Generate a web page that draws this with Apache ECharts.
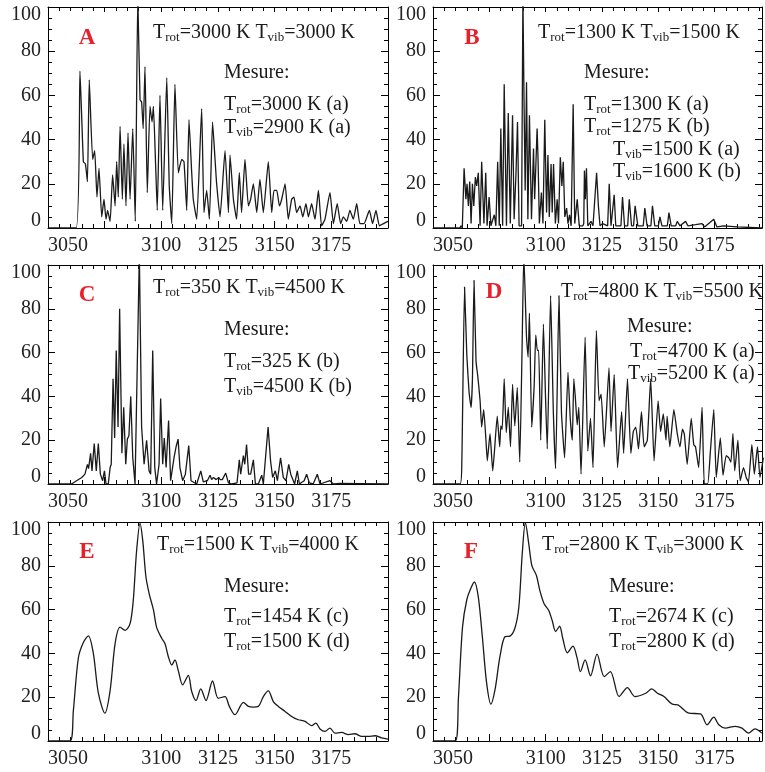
<!DOCTYPE html>
<html>
<head>
<meta charset="utf-8">
<script src="https://cdn.jsdelivr.net/npm/echarts@6/dist/echarts.min.js"></script>
<style>
html,body{margin:0;padding:0;background:#fff}
#main{width:765px;height:772px}
</style>
</head>
<body>
<div id="main"></div>
<script>
// spectres : [nombre d'onde, intensite]
var specA = [[3050,0],[3062.4,0],[3064.1,71],[3065.6,30],[3066.5,29],[3067.4,21],[3068.2,67],[3069.7,31],[3070.6,35],[3071.6,14],[3072.5,27],[3073.7,5],[3074.7,13],[3075.6,4],[3076.3,8],[3077.4,3],[3078.5,24],[3079.6,10],[3080.3,30],[3081,14],[3081.8,46],[3082.8,13],[3083.5,38],[3084.4,10],[3085.3,43],[3086.2,13],[3087.4,45],[3088.5,3],[3089.6,105],[3090.6,58],[3091.3,57],[3092,45],[3092.8,73],[3093.8,16],[3095,55],[3095.9,48],[3096.5,55],[3097.4,31],[3098.2,8],[3099.4,60],[3100.6,8],[3102.4,68],[3103.5,19],[3104.6,2],[3106,65],[3107.5,25],[3109,31],[3110,30],[3111.2,8],[3112.2,49],[3113.4,25],[3114.1,13],[3115.6,4],[3117.8,54],[3118.8,7],[3120,17],[3121.2,4],[3122.6,48],[3123.7,31],[3124.4,20],[3125.9,5],[3128.1,35],[3129.6,7],[3130.3,33],[3131.8,13],[3133.2,4],[3134.4,25],[3135.4,7],[3136.9,31],[3138.4,10],[3139.4,13],[3140.6,20],[3142.1,7],[3143.5,22],[3145,7],[3147.2,30],[3148.7,7],[3149.7,17],[3150.9,17],[3152.1,10],[3153.1,13],[3154.6,20],[3156,4],[3157.5,13],[3158.5,14],[3159.7,7],[3161.2,10],[3162.4,5],[3163.8,11],[3164.9,5],[3166.3,11],[3167.8,4],[3169.3,17],[3170.7,1],[3172.2,4],[3174.4,16],[3175.9,2],[3177.6,11],[3179.1,2],[3180.3,5],[3181.8,3],[3183.2,8],[3184.7,4],[3186.2,11],[3187.6,2],[3189.4,2],[3191.8,8],[3193.2,2],[3194.7,8],[3196.2,1],[3198,2],[3200,3]];

var specB = [[3050,0],[3062,0],[3062.4,1],[3063,0],[3063.8,27],[3064.6,13],[3065.1,20],[3065.7,10],[3066.3,21],[3066.9,2],[3067.5,20],[3068.1,10],[3068.8,23],[3069.4,19],[3070.1,25],[3070.9,1],[3071.6,30],[3072.6,2],[3073.4,25],[3074,1],[3074.9,14],[3075.7,1],[3077.2,6],[3077.9,1],[3078.7,30],[3079.4,1],[3080.1,45],[3080.9,1],[3081.6,65],[3082.6,1],[3083.4,52],[3084.3,2],[3085.3,51],[3086,4],[3086.8,24],[3087.5,48],[3088.2,1],[3089.3,1],[3089.9,105],[3090.4,57],[3090.9,17],[3091.5,66],[3092.1,4],[3092.8,51],[3093.7,4],[3094.6,36],[3095.1,13],[3095.6,27],[3096.2,45],[3096.6,32],[3097.2,2],[3098.1,16],[3098.8,2],[3099.6,49],[3100.4,7],[3101,33],[3101.6,5],[3102.4,29],[3102.9,7],[3103.5,29],[3104.3,2],[3105.1,13],[3105.7,2],[3106.5,32],[3107.2,19],[3107.8,30],[3108.5,5],[3109.3,9],[3109.9,2],[3110.6,6],[3111.3,1],[3112.2,56],[3112.9,2],[3114,13],[3114.9,1],[3116.5,1],[3116.9,2],[3117.2,26],[3117.6,13],[3118.1,27],[3118.7,1],[3120.1,3],[3121,1],[3122.6,25],[3123.4,10],[3124.1,1],[3125.3,2],[3127.5,1],[3128.2,20],[3129,1],[3130.4,15],[3131.1,1],[3133.4,1],[3134.1,14],[3135,1],[3136.4,1],[3137.1,13],[3138.1,1],[3139,1],[3139.7,10],[3140.9,1],[3143.3,1],[3144,9],[3145,1],[3146.7,1],[3147.4,10],[3148.4,1],[3150,1],[3150.7,5],[3151.6,1],[3154,1],[3154.7,7],[3155.7,1],[3157.7,1],[3158.4,3],[3159.6,1],[3162.1,3],[3163.1,1],[3166.5,1.5],[3169.4,2],[3170.5,0.5],[3174.6,4],[3176,0.5],[3179,1],[3185,0.5],[3196,0]];

var specC = [[3050,0],[3060.4,0],[3062.6,1.5],[3064.9,3],[3066.3,4.5],[3067.4,9],[3067.9,7],[3068.8,14],[3069.4,6],[3070.4,18.5],[3071.3,6],[3072.2,18.5],[3073.1,4.5],[3074.1,1.5],[3074.9,6],[3075.6,0],[3076.6,0],[3077.4,7.5],[3077.9,9],[3078.7,48],[3079.4,21],[3080.1,61],[3080.9,26],[3081.6,80],[3082.6,14],[3083.4,35],[3084.3,9],[3085,20.5],[3085.7,22],[3086.5,40],[3087.4,12],[3088.4,0],[3090.3,105],[3091.3,26],[3092.4,9],[3093.5,20],[3094.6,6],[3095.3,4.5],[3096.2,61],[3097.1,7.5],[3097.9,0],[3099,9],[3099.7,39],[3100.6,9],[3101.3,21],[3102.1,7.5],[3103.2,29],[3104.1,1.5],[3105.6,12],[3106.5,17],[3107.4,20.5],[3108.2,7.5],[3109.4,1.5],[3110.6,4.5],[3112.1,17.5],[3113.1,1.5],[3115.6,0],[3117.4,6],[3118.5,1],[3120.3,1.5],[3121.5,4],[3122.2,2],[3123,3],[3124.2,2],[3125.3,3],[3126,2],[3126.9,2],[3128.4,5],[3129.6,0.5],[3131,0],[3133.4,0.5],[3134.4,11],[3135,4.5],[3136.2,13],[3136.8,9],[3137.6,18],[3138.5,4.5],[3139.4,4.5],[3140.6,11],[3141.5,0],[3142.8,0],[3144.3,4],[3145,0],[3147.1,26],[3148.2,10.5],[3149.1,3],[3150.3,6],[3151.2,1.5],[3152.6,12],[3153.8,3],[3155,1.5],[3156.2,9],[3157.1,4.5],[3157.8,5],[3158.8,0],[3160,6],[3160.9,0],[3163,1.5],[3164.1,4.5],[3165.3,0.5],[3167,0],[3168.8,4.5],[3170,0],[3174.4,1.5],[3175.9,0],[3178.8,0.3],[3200,0]];

var specD = [[3050,0],[3062,0],[3062.8,10.6],[3064,90],[3065,59],[3066,42],[3066.9,35],[3067.5,48],[3068.2,93],[3069.1,56],[3069.9,49],[3070.9,38],[3071.6,26],[3072.5,34],[3073.5,20],[3074.1,10.6],[3075.3,23],[3076.5,6],[3077.2,14],[3078.5,31],[3079.6,17],[3080.1,26.5],[3080.7,25],[3081.6,48],[3082.5,23.5],[3083.4,35],[3084.4,17],[3085.3,45.5],[3086.3,26.5],[3087.4,44],[3088.5,10],[3089.5,60],[3090.3,105],[3091.5,67],[3092.2,58],[3092.8,78],[3093.8,26],[3094.9,45],[3095.6,68],[3096.3,61],[3096.9,61],[3097.8,20],[3099,73],[3099.9,41],[3100.7,16],[3102.2,86],[3103.4,33],[3104.4,7],[3105.9,86],[3107,33],[3108.4,12],[3109.9,51],[3110.9,30],[3111.8,20],[3112.5,48],[3113.2,39],[3114,27],[3114.7,35],[3115.7,4.5],[3117.5,67],[3118.7,15],[3119.9,30],[3121,7.5],[3122.5,70],[3123.7,38],[3124.6,41],[3126,17],[3128.1,53],[3129,24],[3130.4,50],[3131.9,7.5],[3133.7,33],[3134.6,14],[3136.3,48],[3137.8,14],[3138.9,24],[3140,26],[3141.2,16],[3142.5,33],[3143.7,17],[3145.1,20],[3146.6,48],[3148.1,10.6],[3149.9,38],[3151,24],[3152.2,32],[3153.4,20],[3153.9,31],[3155.1,17],[3156.9,34],[3158.4,23],[3159.6,17],[3160.7,25],[3161.5,23],[3162.8,9],[3164.6,30],[3165.7,18],[3166.5,17],[3167.9,7.5],[3169.4,35],[3170.4,0],[3171.9,0],[3173.1,15],[3174.6,34],[3175.7,3],[3177.5,21],[3178.7,4],[3180.1,13],[3181.2,12],[3182.2,10],[3183.1,23],[3183.9,6],[3185.3,20],[3186.3,1.5],[3187.8,7.5],[3189,3],[3190,1],[3191.5,18],[3192.6,4.5],[3194,17],[3195.1,3],[3196.6,12]];

var specE = [[3050,0],[3059.7,0],[3061.2,14],[3063.4,38],[3065.6,45],[3067.8,48],[3070,40],[3072.2,22],[3075.1,12.7],[3077.4,23],[3079.6,44.5],[3081.8,52],[3084,50.5],[3086.2,53.6],[3087.6,64],[3089.1,87],[3090.6,99.4],[3091.8,91.5],[3093.2,75],[3094.7,67],[3096.5,60],[3097.9,52],[3100.1,47],[3101.6,44.5],[3103.1,38.5],[3104.6,34.7],[3106,37],[3107.5,32],[3109.4,25.6],[3111.9,30],[3113.4,22.6],[3115.3,18.5],[3117.4,23.8],[3119.7,18.5],[3122.6,27.4],[3125.1,19.5],[3128.1,20.3],[3130,15.8],[3132.5,12],[3136.2,17.6],[3138.4,15.8],[3140.6,15.5],[3142.8,15.8],[3145,20.3],[3147.2,22.9],[3149.4,18],[3151.6,15.8],[3154.6,13.5],[3157.5,11.2],[3160.4,9.7],[3163.4,9],[3166.3,7],[3168.2,8.2],[3170,5.5],[3172.2,4.4],[3174.4,5.9],[3176.6,3.6],[3179.6,3.9],[3182.5,2.9],[3185.4,3.3],[3188.4,2.1],[3191.3,2.1],[3194.3,2.4],[3197.2,1.4],[3200,0.9]];

var specF = [[3050,0],[3059.9,0],[3061.3,20],[3063.1,52],[3065,64.5],[3066.9,70],[3068.4,72.6],[3070.1,65.8],[3071.9,47.6],[3073.8,26.4],[3075.7,16.8],[3077.5,23.3],[3079.7,38.5],[3081.9,47.6],[3084.1,47.9],[3086.3,51.4],[3088.1,61.2],[3089.6,85.5],[3091,99.8],[3092.5,90],[3093.9,80],[3095.9,75.6],[3097.4,68.8],[3099.3,62.7],[3101.3,59.7],[3102.9,55],[3104.4,50],[3106.2,52.4],[3107.6,46.8],[3109.6,40.3],[3112.1,43.3],[3114,37.7],[3115.4,31.7],[3117.5,37],[3119.9,29.8],[3122.8,39.7],[3126,29.4],[3128.7,31.7],[3132.6,20.3],[3136.3,24.4],[3139.6,20.3],[3144.4,21.8],[3147.1,23.8],[3149.6,21.8],[3152.5,20.3],[3156.2,16.8],[3158.7,16.5],[3163.5,12.7],[3168.7,12.4],[3171.6,7.4],[3174.6,10.9],[3176.8,7.4],[3179.7,5.9],[3184.1,6.7],[3187.1,5.9],[3190,3.6],[3192.9,5.5],[3195.9,3.6]];

var spectres = [specA, specB, specC, specD, specE, specF];
var lissage = [0.15, 0, 0, 0.15, 0.3, 0.3];
var xLabels = [3050, 3100, 3125, 3150, 3175];
var lettres = ['A','B','C','D','E','F'];
var titres = [['3000 K','3000 K'],['1300 K','1500 K'],['350 K','4500 K'],['4800 K','5500 K'],['1500 K','4000 K'],['2800 K','3000 K']];
var mesures = [
	[['rot','3000 K (a)'],['vib','2900 K (a)']],
	[['rot','1300 K (a)'],['rot','1275 K (b)'],['vib','1500 K (a)'],['vib','1600 K (b)']],
	[['rot','325 K (b)'],['vib','4500 K (b)']],
	[['rot','4700 K (a)'],['vib','5200 K (a)']],
	[['rot','1454 K (c)'],['rot','1500 K (d)']],
	[['rot','2674 K (c)'],['rot','2800 K (d)']]
];

// cadres des 6 graphes
var cadres = [
	{left:48, top:7, width:340, height:221, xmax:3200},
	{left:433, top:7, width:331, height:221, xmax:3196},
	{left:48, top:265, width:340, height:219, xmax:3200},
	{left:433, top:265, width:331, height:219, xmax:3196},
	{left:48, top:522, width:340, height:219, xmax:3200},
	{left:433, top:522, width:331, height:219, xmax:3196}
];
// positions des textes (relatives au cadre) : lettre, titre, Mesure:, lignes
var posTextes = [
	{l:[39,31], t:[105,26], m:[176,66], lignes:[[176,98],[176,121]]},
	{l:[39,31], t:[105,26], m:[151,66], lignes:[[151,98],[151,120],[180,143],[180,165]]},
	{l:[39,30], t:[105,23], m:[176,65], lignes:[[176,97],[176,122]]},
	{l:[61,27], t:[128,27], m:[194,62], lignes:[[197,87],[195,109]]},
	{l:[39,30], t:[109,23], m:[176,65], lignes:[[176,95],[176,120]]},
	{l:[38,30], t:[109,23], m:[176,65], lignes:[[176,95],[176,120]]}
];

var police = '"Liberation Serif", "DejaVu Serif", serif';
var noir = '#1a1a1a';
var richT = {
	n: {fontSize: 20, fontFamily: police, color: noir},
	s: {fontSize: 13, fontFamily: police, color: noir, padding: [9, 0, 0, 0]}
};

var grids = [], xAxes = [], yAxes = [], series = [], graphics = [];
for (var i = 0; i < 6; i++) {
	var c = cadres[i];
	grids.push({left:c.left, top:c.top, width:c.width, height:c.height, show:false});
	var tick = {inside:true, length:7, lineStyle:{color:'#000', width:1}};
	var ligne = {show:true, onZero:false, lineStyle:{color:'#000', width:1}};
	xAxes.push({
		gridIndex:i, type:'value', min:3050, max:c.xmax, interval:25, position:'bottom',
		axisLine:ligne, axisTick:tick,
		minorTick:{show:true, splitNumber:5, length:4, lineStyle:{color:'#000'}},
		splitLine:{show:false},
		axisLabel:{margin:8, fontSize:20, fontFamily:police, color:'#222', alignMinLabel:'left',
			formatter:function(v){ return xLabels.indexOf(v) >= 0 ? String(v) : ''; }}
	});
	yAxes.push({
		gridIndex:i, type:'value', min:0, max:100, interval:20, position:'left',
		axisLine:ligne, axisTick:tick,
		minorTick:{show:true, splitNumber:4, length:4, lineStyle:{color:'#000'}},
		splitLine:{show:false},
		axisLabel:{margin:7, fontSize:20, fontFamily:police, color:'#222',
			formatter:function(v){ return v === 0 ? '{z|0}' : (v === 100 ? '{h|100}' : String(v)); },
			rich:{
				z:{fontSize:20, fontFamily:police, color:'#222', padding:[0,0,14,0]},
				h:{fontSize:20, fontFamily:police, color:'#222', padding:[15,0,0,0]}
			}}
	});
	series.push({
		type:'line', xAxisIndex:i, yAxisIndex:i, data:spectres[i],
		showSymbol:false, smooth:lissage[i], clip:true,
		lineStyle:{color:noir, width:1.3}
	});
}
// axes miroirs (haut et droite)
for (var j = 0; j < 6; j++) {
	xAxes.push({
		gridIndex:j, type:'value', min:3050, max:cadres[j].xmax, interval:25, position:'top',
		axisLine:{show:true, onZero:false, lineStyle:{color:'#000', width:1}},
		axisTick:{inside:true, length:5, lineStyle:{color:'#000'}},
		minorTick:{show:true, splitNumber:5, length:4, lineStyle:{color:'#000'}},
		splitLine:{show:false}, axisLabel:{show:false}
	});
	yAxes.push({
		gridIndex:j, type:'value', min:0, max:100, interval:20, position:'right',
		axisLine:{show:true, onZero:false, lineStyle:{color:'#000', width:1}},
		axisTick:{inside:true, length:7, lineStyle:{color:'#000'}},
		minorTick:{show:true, splitNumber:4, length:4, lineStyle:{color:'#000'}},
		splitLine:{show:false}, axisLabel:{show:false}
	});
}

function txt(x, y, texte) {
	return {type:'text', x:x, y:y, style:{text:texte, rich:richT, font:'20px ' + police,
		fill:noir, textVerticalAlign:'middle', verticalAlign:'middle'}};
}
for (var k = 0; k < 6; k++) {
	var c2 = cadres[k], p = posTextes[k];
	graphics.push({type:'text', x:c2.left + p.l[0], y:c2.top + p.l[1],
		style:{text:lettres[k], font:'bold 23px ' + police, fill:'#e8202a',
			textAlign:'center', align:'center', textVerticalAlign:'middle', verticalAlign:'middle'}});
	graphics.push(txt(c2.left + p.t[0], c2.top + p.t[1],
		'{n|T}{s|rot}{n|=' + titres[k][0] + ' T}{s|vib}{n|=' + titres[k][1] + '}'));
	graphics.push(txt(c2.left + p.m[0], c2.top + p.m[1], '{n|Mesure:}'));
	for (var m = 0; m < mesures[k].length; m++) {
		graphics.push(txt(c2.left + p.lignes[m][0], c2.top + p.lignes[m][1],
			'{n|T}{s|' + mesures[k][m][0] + '}{n|=' + mesures[k][m][1] + '}'));
	}
}

var myChart = echarts.init(document.getElementById('main'));
var option = {
	animation:false,
	backgroundColor:'#fff',
	grid:grids,
	xAxis:xAxes,
	yAxis:yAxes,
	series:series,
	graphic:graphics
};
myChart.setOption(option);
</script>
</body>
</html>
